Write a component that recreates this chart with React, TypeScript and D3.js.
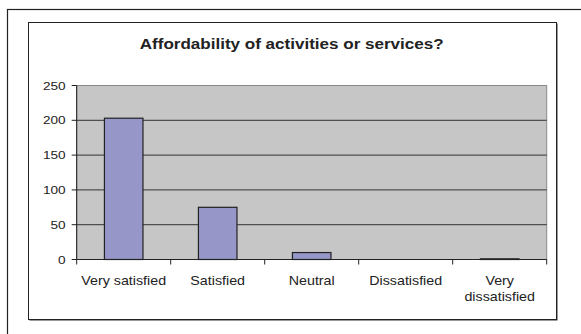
import React from "react";
import * as d3 from "d3";

const categories: string[][] = [["Very satisfied"], ["Satisfied"], ["Neutral"], ["Dissatisfied"], ["Very", "dissatisfied"]];
const values: number[] = [203, 75, 10, 0, 1];
const yTicks: number[] = [0, 50, 100, 150, 200, 250];
const title = "Affordability of activities or services?";

const W = 581;
const H = 334;

export default function App() {
  const plot = { left: 76.7, right: 546.7, top: 85.5, bottom: 259.5 };
  const x = d3
    .scaleBand<number>()
    .domain(d3.range(categories.length))
    .range([plot.left, plot.right])
    .paddingInner(0.59)
    .paddingOuter(0.295);
  const y = d3.scaleLinear().domain([0, 250]).range([plot.bottom, plot.top]);
  const step = x.step();
  const font = "'Liberation Sans', Arial, sans-serif";

  return (
    <svg
      width={W}
      height={H}
      style={{ position: "absolute", left: 0, top: 0, background: "#fff" }}
      fontFamily={font}
    >
      {/* outer frame */}
      <rect x={7.5} y={9.5} width={700} height={500} fill="none" stroke="#222" strokeWidth={1.2} />
      {/* chart box shadow */}
      <rect x={29.5} y={23.5} width={528} height={297} fill="#333" />
      <rect x={28.5} y={22.5} width={528} height={297} fill="#fff" stroke="#222" strokeWidth={1} />
      {/* title */}
      <text
        transform={`translate(291.7,49) scale(1.1,1)`}
        textAnchor="middle"
        fontSize={15.5}
        fontWeight="bold"
        fill="#222"
      >
        {title}
      </text>
      {/* plot area */}
      <rect
        x={plot.left}
        y={plot.top}
        width={plot.right - plot.left}
        height={plot.bottom - plot.top}
        fill="#C6C6C6"
        stroke="#8a8a8a"
        strokeWidth={1}
      />
      {yTicks
        .filter((t) => t > 0 && t < 250)
        .map((t) => (
          <line key={t} x1={plot.left} x2={plot.right} y1={y(t)} y2={y(t)} stroke="#333" strokeWidth={1} />
        ))}
      {/* bars */}
      {values.map((v, i) => (
        <rect
          key={i}
          x={x(i)!}
          y={y(v)}
          width={x.bandwidth()}
          height={plot.bottom - y(v)}
          fill="#9696C8"
          stroke="#222"
          strokeWidth={1.2}
        />
      ))}
      {/* y axis */}
      <line x1={plot.left} x2={plot.left} y1={plot.top} y2={plot.bottom} stroke="#222" strokeWidth={1} />
      {yTicks.map((t) => (
        <g key={t}>
          <line x1={plot.left - 5} x2={plot.left} y1={y(t)} y2={y(t)} stroke="#222" strokeWidth={1} />
          <text
            transform={`translate(65.5,${y(t) + 4}) scale(1.2,1)`}
            textAnchor="end"
            fontSize={11.3}
            fill="#222"
          >
            {t}
          </text>
        </g>
      ))}
      {/* x axis */}
      <line x1={plot.left} x2={plot.right} y1={plot.bottom} y2={plot.bottom} stroke="#222" strokeWidth={1} />
      {d3.range(categories.length + 1).map((i) => (
        <line
          key={i}
          x1={plot.left + i * step}
          x2={plot.left + i * step}
          y1={plot.bottom}
          y2={plot.bottom + 5}
          stroke="#222"
          strokeWidth={1}
        />
      ))}
      {categories.map((lines, i) => (
        <g key={i}>
          {lines.map((ln, j) => (
            <text
              key={j}
              transform={`translate(${x(i)! + x.bandwidth() / 2},${284.5 + j * 16}) scale(1.15,1)`}
              textAnchor="middle"
              fontSize={12.4}
              fill="#222"
            >
              {ln}
            </text>
          ))}
        </g>
      ))}
    </svg>
  );
}
